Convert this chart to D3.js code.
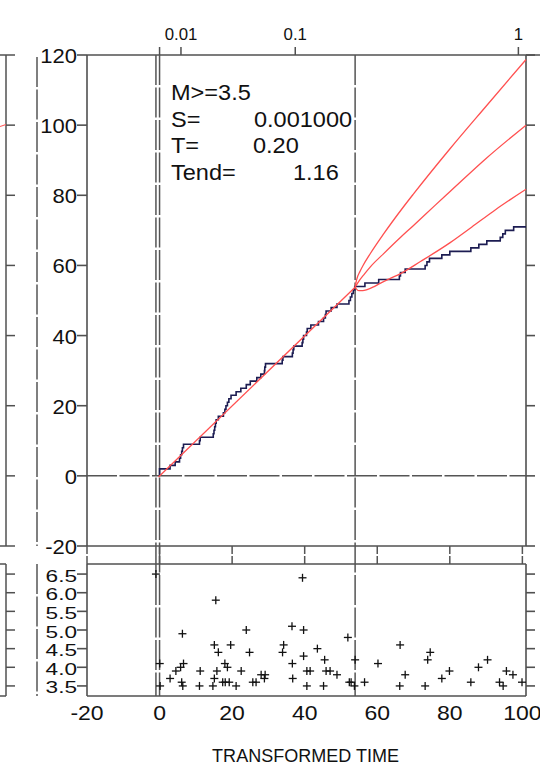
<!DOCTYPE html>
<html><head><meta charset="utf-8">
<script src="https://cdn.jsdelivr.net/npm/d3@7"></script>
<style>html,body{margin:0;padding:0;background:#fff;} svg{display:block;}</style>
</head><body>
<svg id="c" width="540" height="765"></svg>
<script>
// ---------- data ----------
const countTicks = [-20, 0, 20, 40, 60, 80, 100, 120];
const magTicks = [3.5, 4.0, 4.5, 5.0, 5.5, 6.0, 6.5];
const magTickLabels = ["3.5", "4.0", "4.5", "5.0", "5.5", "6.0", "6.5"];
const timeTicks = [-20, 0, 20, 40, 60, 80, 100];
const topTickPos = [0, 5.9, 37.4, 98.9];
const topTickLabels = ["", "0.01", "0.1", "1"];
const splitT = 53.9;          // transformed time of T
const mainshockT = -1.0;

// events (transformed time, magnitude)
const eventT = [-1.0, 0.05, 0.15, 2.9, 4.5, 5.8, 6.1, 6.3, 6.4, 6.6, 11.0, 11.2, 14.7, 15.1, 15.1, 15.5, 15.8, 16.2,
  17.4, 18.0, 18.1, 18.7, 19.2, 19.6, 21.1, 22.5, 23.9, 24.8, 25.7, 26.6, 28.0, 28.9, 29.1, 33.9, 34.2,
  36.5, 36.6, 36.7, 39.4, 39.7, 39.7, 40.6, 40.6, 41.5, 43.5, 45.2, 45.5, 45.9, 47.0, 48.9, 51.9, 52.3,
  52.8, 53.7, 53.9, 56.5, 60.2, 66.2, 66.3, 67.7, 73.2, 73.9, 74.6, 77.8, 79.9, 85.8, 87.9, 90.4, 93.7,
  94.7, 95.6, 97.4, 99.9];
const eventMag = [6.5, 4.1, 3.5, 3.7, 3.9, 4.0, 3.6, 4.9, 3.5, 4.1, 3.5, 3.9, 3.5, 4.6, 3.7, 5.8, 3.9, 4.4,
  3.6, 4.1, 3.6, 4.0, 3.6, 4.6, 3.5, 3.9, 5.0, 4.4, 3.6, 3.6, 3.8, 3.7, 3.8, 4.4, 4.6,
  5.1, 4.1, 3.7, 6.4, 5.0, 4.3, 3.9, 3.5, 3.9, 4.5, 3.5, 4.2, 3.9, 3.9, 3.8, 4.8, 3.6,
  3.6, 3.5, 4.2, 3.6, 4.1, 3.5, 4.6, 3.8, 3.5, 4.2, 4.4, 3.7, 3.9, 3.6, 4.0, 4.2, 3.6,
  3.5, 3.9, 3.8, 3.6];

// cumulative-number staircase step times
const stepT = [0, 0, 2.9, 4.3, 5.5, 5.8, 6.1, 6.3, 6.6, 11.0, 11.2, 14.8, 15.0, 15.2, 15.4, 15.6, 16.2,
  17.6, 18.0, 18.3, 18.7, 19.1, 19.7, 21.1, 22.4, 23.9, 25.0, 26.8, 27.9, 28.9, 29.0, 29.2, 33.8, 34.0,
  36.6, 36.8, 37.0, 39.3, 39.5, 39.7, 40.5, 40.7, 41.7, 43.8, 45.2, 45.7, 45.9, 47.3, 48.9, 52.2, 52.6,
  53.0, 53.4, 53.8, 56.6, 60.4, 66.1, 66.4, 67.7, 73.2, 73.7, 74.4, 77.8, 80.0, 85.8, 88.0, 90.2, 93.9,
  94.6, 95.3, 97.6];
const stepEndT = 101;

// fitted line and forecast curves
const fitT = [-0.3, 53.9];
const fitN = [-0.3, 53.8];
const upT = [53.9, 54.3, 55.3, 56.2, 58.1, 61.7, 67.3, 70, 80, 90, 101];
const upN = [53.8, 55.9, 58.4, 60.2, 63.4, 68.9, 76.8, 80.4, 93.2, 105.4, 118.7];
const midT = [53.9, 55.0, 56.5, 58.1, 61.7, 66.0, 70.0, 76.0, 80.0, 90.0, 101];
const midN = [53.8, 55.6, 57.6, 59.6, 63.3, 67.6, 71.4, 77.2, 81.0, 90.5, 100.0];
const loT = [53.9, 54.4, 55.0, 56.0, 57.2, 59.0, 60.8, 63.6, 66.3, 71.9, 80.1, 86.0, 92.6, 101];
const loN = [53.8, 53.1, 52.8, 52.8, 53.1, 53.9, 54.9, 56.3, 57.6, 61.1, 66.5, 70.9, 75.9, 81.7];

const annoLabels = ["M>=3.5", "S=", "T=", "Tend="];
const annoValues = ["", "0.001000", "0.20", "1.16"];
const xTitle = "TRANSFORMED TIME";

// ---------- layout ----------
const L = 87, R = 526, mTop = 55, mBot = 546, lTop = 564, lBot = 696;
const FONT = "'Liberation Sans', Arial, Helvetica, sans-serif";
const AX = "#505050", GRID = "#555";
const DASH = "30,2.5";

const svg = d3.select("#c");
const x = d3.scaleLinear().domain([-20, 101]).range([L, R]);
const y = d3.scaleLinear().domain([-20, 120]).range([mBot, mTop]);
const ym = d3.scaleLinear().domain([3.23, 6.77]).range([lBot, lTop]);

function txt(px, py, s, size, sx, anchor) {
  const g = svg.append("g").attr("transform", `translate(${px},${py}) scale(${sx},1)`);
  g.append("text").attr("text-anchor", anchor).attr("font-family", FONT)
    .attr("font-size", size).attr("fill", "#111").text(s);
}
function line(x1, y1, x2, y2, color, w, dash) {
  const l = svg.append("line").attr("x1", x1).attr("y1", y1).attr("x2", x2).attr("y2", y2)
    .attr("stroke", color).attr("stroke-width", w);
  if (dash) l.attr("stroke-dasharray", dash);
  return l;
}

// ---------- partial neighbour panel on the far left ----------
const PX = 6;
line(PX, mTop, PX, mBot, AX, 1.5);
line(0, mTop, PX, mTop, AX, 1.5);
line(0, mBot, PX, mBot, AX, 1.5);
countTicks.forEach(v => line(PX, y(v), PX + 9, y(v), AX, 1.5));
line(0, y(99.6), PX, y(100.2), "#ff5a5a", 1.2);
line(PX, lTop, PX, lBot, AX, 1.5);
line(0, lTop, PX, lTop, AX, 1.5);
line(0, lBot, PX, lBot, AX, 1.5);
magTicks.forEach(v => line(PX, ym(v), PX + 9, ym(v), AX, 1.5));
line(37, mTop + 2, 37, mBot, GRID, 1.5, DASH);
line(37, lTop, 37, lBot, GRID, 1.5, DASH);

// ---------- main panel ----------
line(L, mTop, 540, mTop, AX, 1.6);
line(L, mBot, R, mBot, AX, 1.6);
line(L, mTop, L, mBot, AX, 1.6);
line(R, mTop, R, mBot, AX, 1.6);
countTicks.forEach(v => {
  line(L - 10, y(v), L, y(v), AX, 1.6);
  line(R, y(v), R + 9, y(v), AX, 1.6);
  txt(L - 10, y(v) + 8, String(v), 20, 1.1, "end");
});
line(L, y(0), R, y(0), GRID, 1.5, DASH);
topTickPos.forEach((p, i) => {
  line(x(p), mTop - 8, x(p), mTop, AX, 1.5);
  if (topTickLabels[i]) txt(x(p), 40, topTickLabels[i], 16, 1.05, "middle");
});
timeTicks.forEach(v => line(x(v), mBot, x(v), lTop, GRID, 1.5, "8,2,9"));

[mainshockT, 0, splitT].forEach(t => line(x(t), mTop, x(t), lBot, GRID, 1.5, DASH));

// staircase
const stair = [[0, 0]];
stepT.forEach((t, i) => stair.push([t, i + 1]));
stair.push([stepEndT, stepT.length]);
svg.append("path").datum(stair)
  .attr("d", d3.line().x(d => x(d[0])).y(d => y(d[1])).curve(d3.curveStepAfter))
  .attr("fill", "none").attr("stroke", "#1c1c52").attr("stroke-width", 1.6);

// red lines
const red = "#ff5050";
const lineGen = d3.line().x(d => x(d[0])).y(d => y(d[1])).curve(d3.curveMonotoneX);
[[fitT, fitN], [upT, upN], [midT, midN], [loT, loN]].forEach(([ts, ns]) => {
  svg.append("path").datum(ts.map((t, i) => [t, ns[i]]))
    .attr("d", lineGen).attr("fill", "none").attr("stroke", red).attr("stroke-width", 1.3);
});

// annotation
annoLabels.forEach((s, i) => txt(171, 100 + i * 26.7, s, 22, 1.07, "start"));
const valX = [0, 254, 253, 293];
annoValues.forEach((s, i) => { if (s) txt(valX[i], 100 + i * 26.7, s, 22, 1.07, "start"); });

// ---------- lower panel ----------
line(L, lTop, R, lTop, AX, 1.6);
line(L, lBot, R, lBot, AX, 1.6);
line(L, lTop, L, lBot, AX, 1.6);
line(R, lTop, R, lBot, AX, 1.6);
magTicks.forEach((v, i) => {
  line(L - 10, ym(v), L, ym(v), AX, 1.6);
  line(R, ym(v), R + 9, ym(v), AX, 1.6);
  txt(L - 10, ym(v) + 7.5, magTickLabels[i], 17, 1.33, "end");
});
timeTicks.forEach(v => txt(x(v), 720, String(v), 20, 1.15, "middle"));

const pts = eventT.map((t, i) => [t, eventMag[i]]);
const g = svg.append("g").attr("stroke", "#111").attr("stroke-width", 1.3);
pts.forEach(d => {
  const cx = x(d[0]), cy = ym(d[1]);
  g.append("line").attr("x1", cx - 4).attr("x2", cx + 4).attr("y1", cy).attr("y2", cy);
  g.append("line").attr("x1", cx).attr("x2", cx).attr("y1", cy - 4).attr("y2", cy + 4);
});

txt(305.5, 761.5, xTitle, 17.5, 1.03, "middle");
</script>
</body></html>
